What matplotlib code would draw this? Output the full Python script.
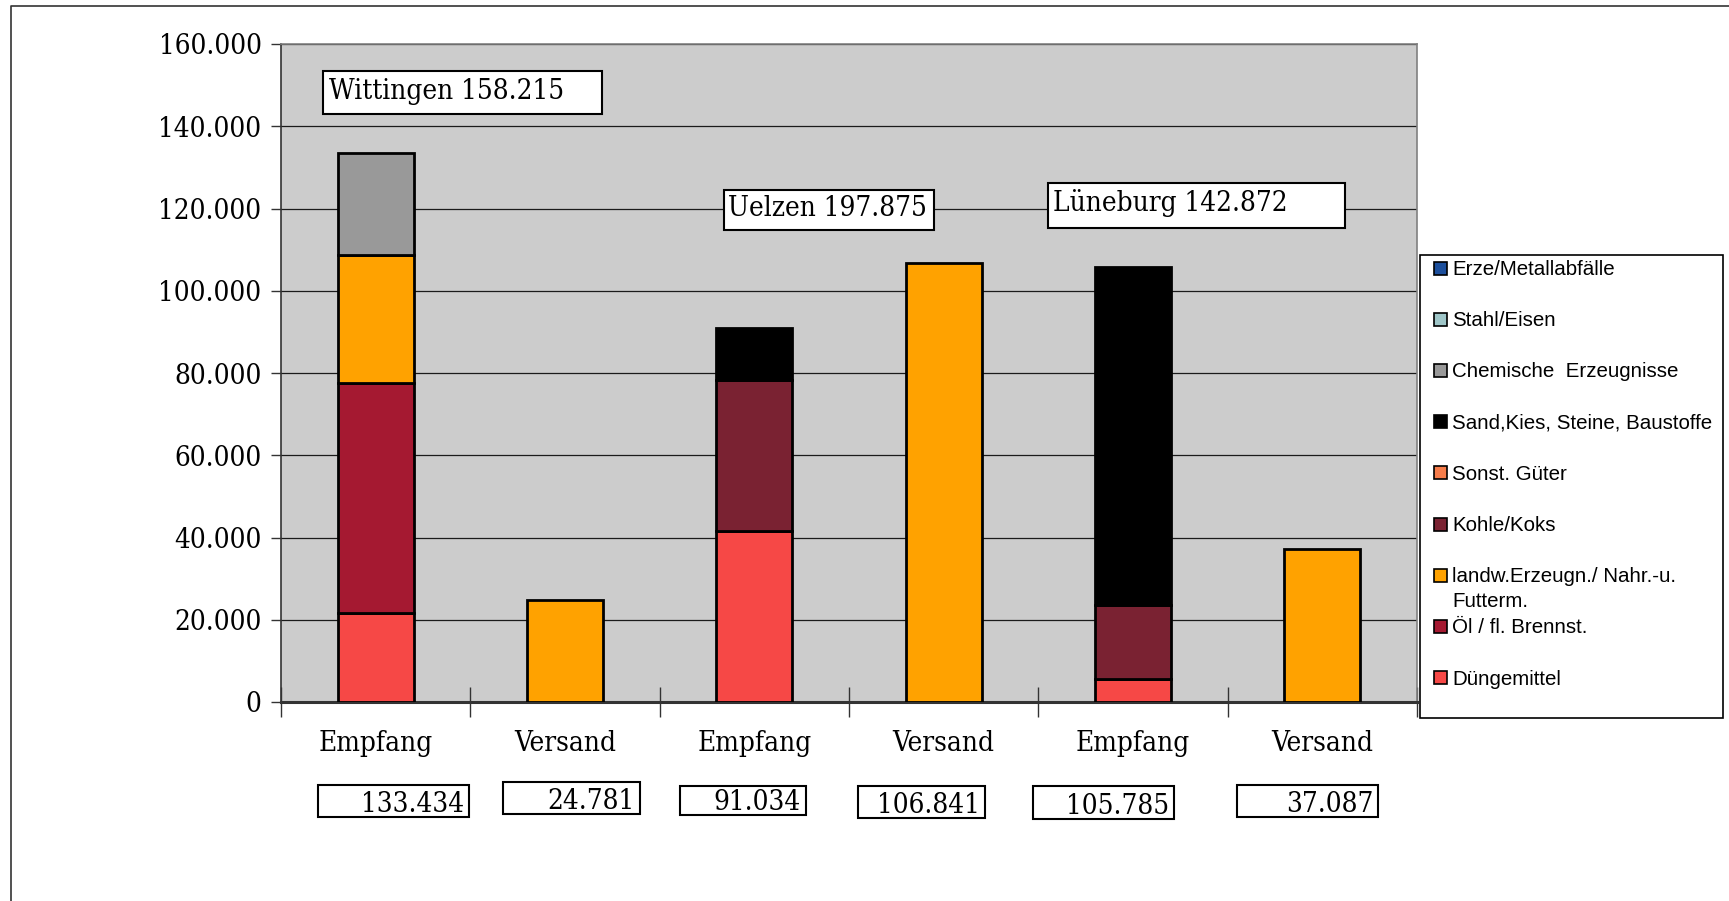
import matplotlib.pyplot as plt
from matplotlib.patches import Rectangle
from matplotlib.lines import Line2D
import numpy as np

W, H = 1729, 901

# Daten
sites = ['Wittingen', 'Uelzen', 'Lüneburg']
categories = ['Empfang', 'Versand', 'Empfang', 'Versand', 'Empfang', 'Versand']

# Gütergruppen in Stapelreihenfolge (unten -> oben)
goods = ['Düngemittel', 'Öl / fl. Brennst.', 'landw.Erzeugn./ Nahr.-u.\nFutterm.', 'Kohle/Koks',
         'Sonst. Güter', 'Sand,Kies, Steine, Baustoffe', 'Chemische  Erzeugnisse',
         'Stahl/Eisen', 'Erze/Metallabfälle']
colors = ['#f64846', '#a51931', '#ffa200', '#7a2232', '#f67c4a', '#000000', '#999999',
          '#9fc6c8', '#1c4f9c']

duengemittel = [21573, 0, 41600, 0, 5600, 0]
oel = [55910, 0, 0, 0, 0, 0]
landw = [31281, 24781, 0, 106841, 0, 37087]
kohle = [0, 0, 36700, 0, 18100, 0]
sonst = [0, 0, 0, 0, 0, 0]
sand = [0, 0, 12734, 0, 82085, 0]
chemie = [24670, 0, 0, 0, 0, 0]
stahl = [0, 0, 0, 0, 0, 0]
erze = [0, 0, 0, 0, 0, 0]
series = [duengemittel, oel, landw, kohle, sonst, sand, chemie, stahl, erze]


def de(v):
    # deutsche Tausenderpunkte
    return f"{int(round(v)):,}".replace(",", ".")


def px(x, y):
    return x / W, 1 - y / H


serif = dict(family='DejaVu Serif', stretch='condensed', size=20)
sans = dict(family='Liberation Sans', size=14.8)

fig = plt.figure(figsize=(W / 100, H / 100), dpi=100)
fig.patch.set_facecolor('white')

# Rahmen oben/links
fig.add_artist(Line2D([11 / W, 11 / W, 1], [0, 1 - 6 / H, 1 - 6 / H],
                      transform=fig.transFigure, color='#333333', lw=1.2))

ax = fig.add_axes([281 / W, 1 - 702 / H, (1417 - 281) / W, (702 - 44) / H])
ax.set_facecolor('#cccccc')

x = np.arange(len(categories))
bottom = np.zeros(len(categories))
for name, col, vals in zip(goods, colors, series):
    vals = np.array(vals, dtype=float)
    m = vals > 0
    if m.any():
        ax.bar(x[m], vals[m], 0.4, bottom=bottom[m], color=col, edgecolor='black',
               linewidth=2, zorder=3)
    bottom += vals
totals = bottom.copy()

ax.set_xlim(-0.5, 5.5)
ax.set_ylim(0, 160000)
yt = np.arange(0, 160001, 20000)
ax.set_yticks(yt)
ax.set_yticklabels([de(v) for v in yt], fontdict=serif)
ax.yaxis.grid(True, color='#1a1a1a', lw=0.9, zorder=1)
ax.set_axisbelow(True)
ax.tick_params(axis='y', length=7, width=1, pad=7, color='#333333')

ax.set_xticks(x)
ax.set_xticklabels(categories, fontdict=serif)
ax.tick_params(axis='x', which='major', length=0, pad=20)
ax.set_xticks(np.arange(-0.5, 6, 1), minor=True)
ax.tick_params(axis='x', which='minor', length=22, width=1, direction='inout', color='#333333')

for s in ['top', 'right']:
    ax.spines[s].set_color('#808080')
    ax.spines[s].set_linewidth(1.2)
ax.spines['left'].set_color('#333333')
ax.spines['left'].set_linewidth(1.2)
ax.spines['bottom'].set_color('#333333')
ax.spines['bottom'].set_linewidth(2.2)

# Standort-Summen
site_totals = [totals[0] + totals[1], totals[2] + totals[3], totals[4] + totals[5]]
site_boxes = [(323, 71, 602, 114), (724, 190, 934, 230), (1048, 183, 1345, 228)]
site_text = [(329, 99), (728, 216), (1053, 211)]
for name, tot, (x0, y0, x1, y1), (tx, ty) in zip(sites, site_totals, site_boxes, site_text):
    fig.add_artist(Rectangle(px(x0, y1), (x1 - x0) / W, (y1 - y0) / H, transform=fig.transFigure,
                             facecolor='white', edgecolor='black', lw=1.5, zorder=5))
    fig.text(*px(tx, ty), f"{name} {de(tot)}", ha='left', va='baseline', zorder=6, **serif)

# Werte unter den Balken
val_boxes = [(318, 785, 469, 817), (503, 782, 640, 814), (680, 786, 806, 815),
             (858, 786, 985, 818), (1033, 786, 1174, 819), (1237, 785, 1378, 817)]
for tot, (x0, y0, x1, y1) in zip(totals, val_boxes):
    fig.add_artist(Rectangle(px(x0, y1), (x1 - x0) / W, (y1 - y0) / H, transform=fig.transFigure,
                             facecolor='white', edgecolor='black', lw=1.5, zorder=5))
    fig.text(*px(x1 - 5, y1 - 5), de(tot), ha='right', va='baseline', zorder=6, **serif)

# Legende (umgekehrte Stapelreihenfolge)
fig.add_artist(Rectangle(px(1420, 718), (1723 - 1420) / W, (718 - 255) / H, transform=fig.transFigure,
                         facecolor='white', edgecolor='black', lw=1.2))
y0, step = 268, 51.2
for i, (name, col) in enumerate(zip(goods[::-1], colors[::-1])):
    yc = y0 + i * step
    fig.add_artist(Rectangle(px(1434, yc + 6.5), 13 / W, 13 / H, transform=fig.transFigure,
                             facecolor=col, edgecolor='black', lw=1.2))
    for k, line in enumerate(name.split('\n')):
        fig.text(*px(1452, yc + 7 + k * 25), line, ha='left', va='baseline', **sans)

plt.savefig('out.png', dpi=100)
